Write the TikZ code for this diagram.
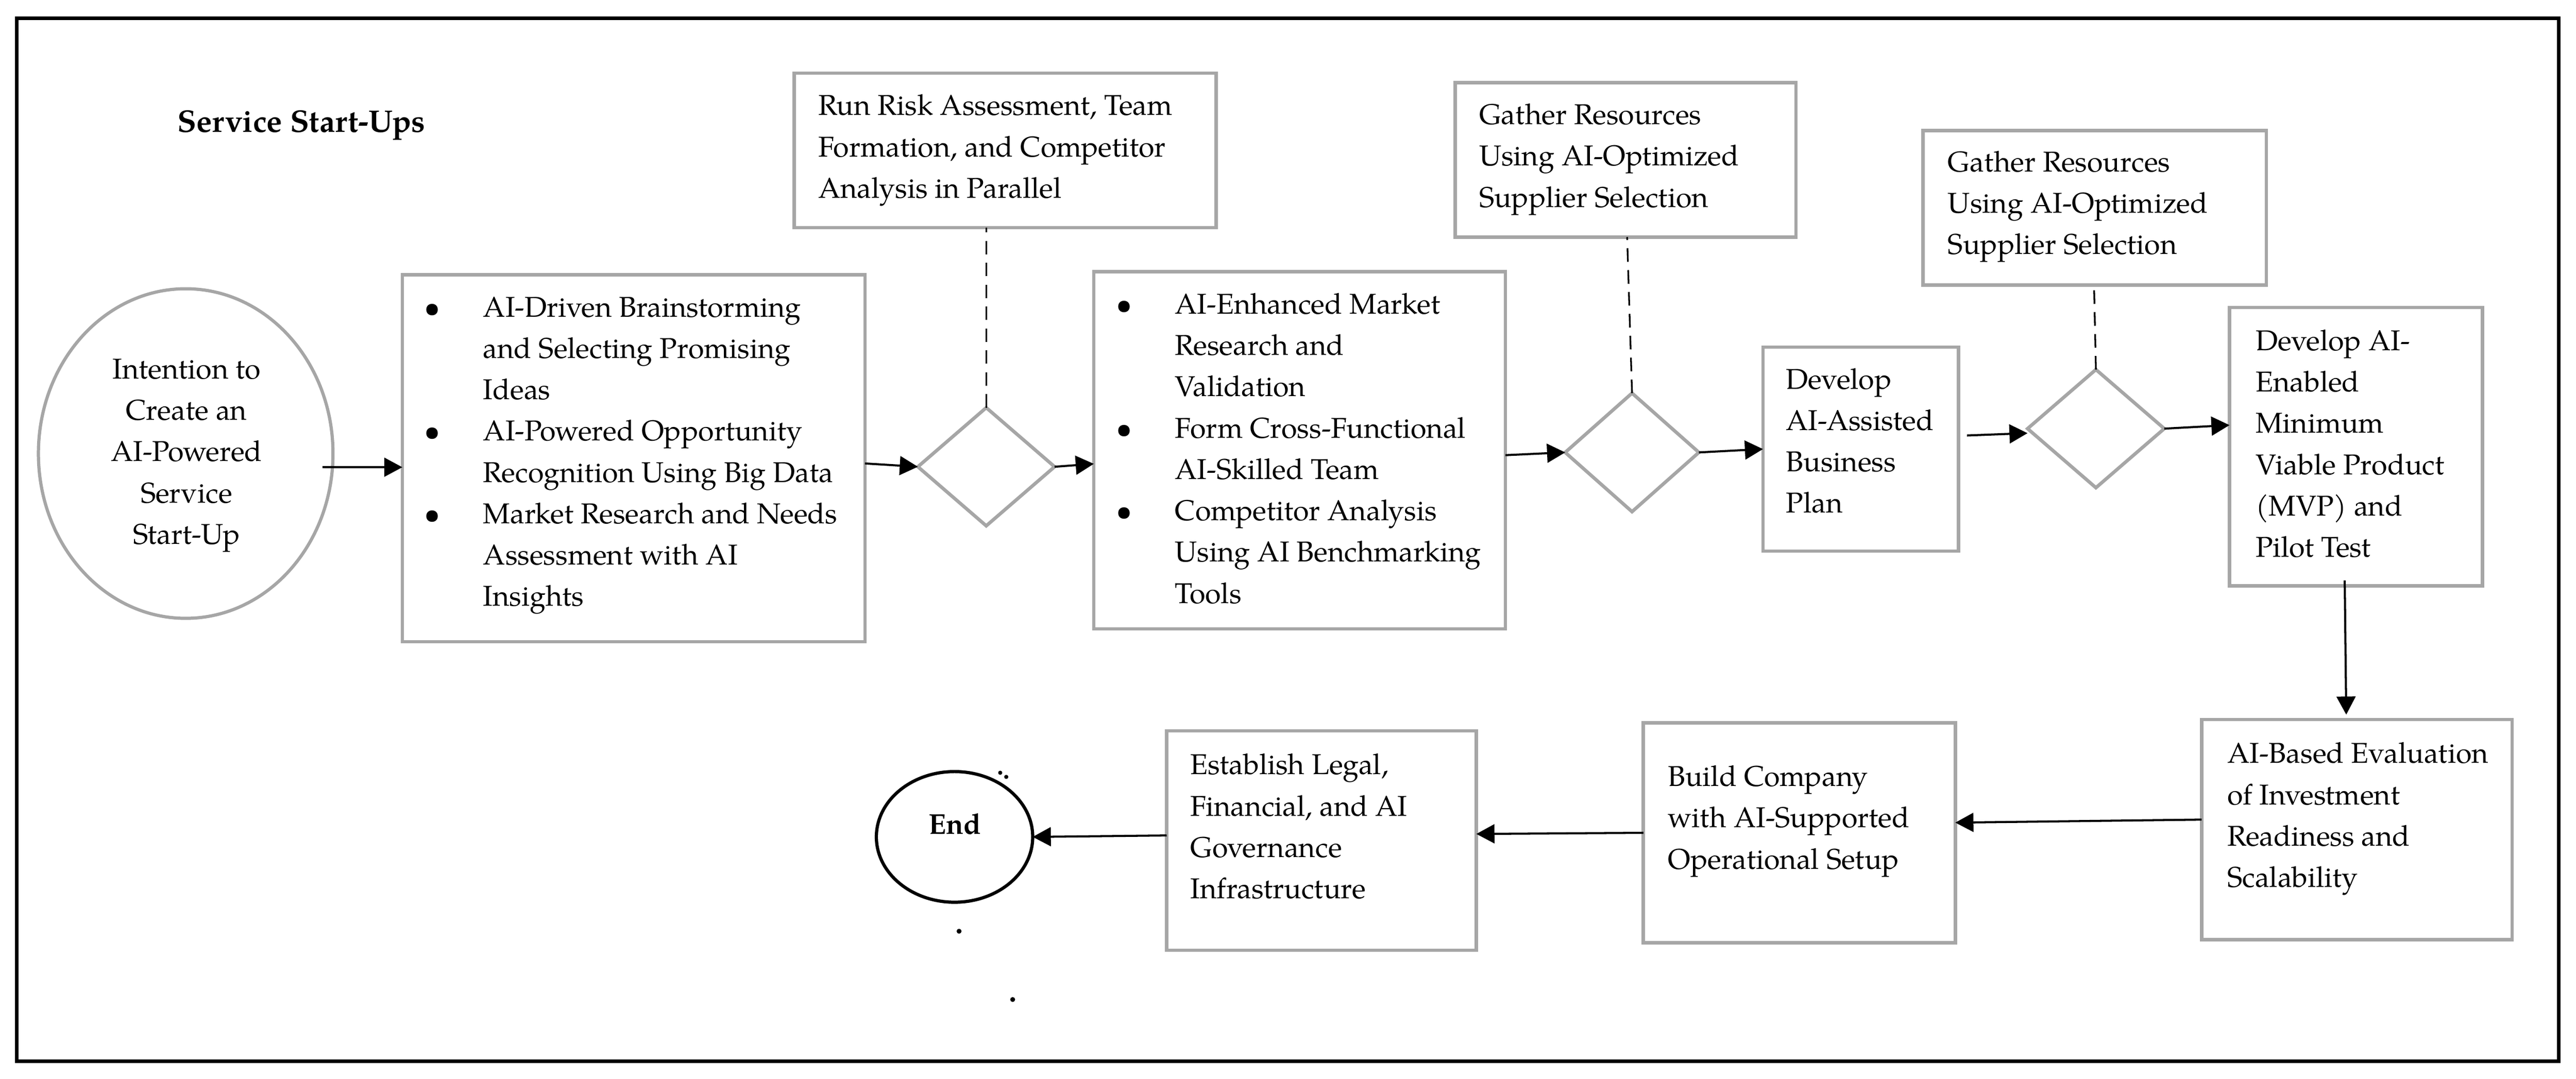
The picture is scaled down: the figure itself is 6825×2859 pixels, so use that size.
\documentclass[tikz,border=0pt]{standalone}
\usepackage{fontspec}
\setmainfont{TeX Gyre Pagella}
\usetikzlibrary{shapes.geometric,arrows.meta}
\definecolor{boxgray}{RGB}{166,166,166}
\newcommand\mainsize{\fontsize{21.6pt}{31.15pt}\selectfont}
\newcommand\titlesize{\fontsize{23.5pt}{31.15pt}\selectfont}
\newcommand\bul{\llap{\makebox[2.7cm][c]{\textbullet}}}
\begin{document}
\begin{tikzpicture}[x=0.01cm,y=-0.01cm,
  every node/.style={inner sep=0pt, outer sep=0pt},
  gbox/.style={draw=boxgray, line width=0.09cm, rectangle, anchor=north west},
  gdiam/.style={draw=boxgray, line width=0.09cm, diamond, minimum width=3.62cm, minimum height=3.13cm},
  txt/.style={anchor=north west, font=\mainsize},
  arr/.style={-{Triangle[length=0.48cm,width=0.5cm]}, line width=0.055cm},
  dsh/.style={dash pattern=on 0.36cm off 0.22cm, line width=0.045cm}]
\useasboundingbox (0,0) rectangle (6825,2859);
\draw[line width=0.095cm] (45,49) rectangle (6779,2812);
\node[anchor=base west, font=\titlesize\bfseries] (title) at (470,350) {Service Start-Ups};
% start ellipse
\node[ellipse, draw=boxgray, line width=0.085cm, minimum width=7.8cm, minimum height=8.73cm] (start) at (492,1202) {};
\node[anchor=north, font=\mainsize] (starttxt) at (494,927) {\begin{tabular}{@{}c@{}}Intention to\\Create an\\AI-Powered\\Service\\Start-Up\end{tabular}};
% box 1
\node[gbox, minimum width=12.25cm, minimum height=9.72cm] (b1) at (1066,728) {};
\node[txt] (b1t) at (1280,763) {\begin{tabular}{@{}l@{}}\bul AI-Driven Brainstorming\\and Selecting Promising\\Ideas\\\bul AI-Powered Opportunity\\Recognition Using Big Data\\\bul Market Research and Needs\\Assessment with AI\\Insights\end{tabular}};
% top 1 and diamond 1
\node[gbox, minimum width=11.17cm, minimum height=4.09cm] (t1) at (2104,194) {};
\node[txt] (t1t) at (2168,229) {\begin{tabular}{@{}l@{}}Run Risk Assessment, Team\\Formation, and Competitor\\Analysis in Parallel\end{tabular}};
\node[gdiam] (d1) at (2613,1237) {};
% box 2
\node[gbox, minimum width=10.90cm, minimum height=9.46cm] (b2) at (2898,720) {};
\node[txt] (b2t) at (3113,755) {\begin{tabular}{@{}l@{}}\bul AI-Enhanced Market\\Research and\\Validation\\\bul Form Cross-Functional\\AI-Skilled Team\\\bul Competitor Analysis\\Using AI Benchmarking\\Tools\end{tabular}};
% top 2 and diamond 2
\node[gbox, minimum width=9.03cm, minimum height=4.09cm] (t2) at (3855,219) {};
\node[txt] (t2t) at (3919,253) {\begin{tabular}{@{}l@{}}Gather Resources\\Using AI-Optimized\\Supplier Selection\end{tabular}};
\node[gdiam, minimum width=3.54cm, minimum height=3.14cm] (d2) at (4324,1199) {};
% box 3
\node[gbox, minimum width=5.18cm, minimum height=5.40cm] (b3) at (4671,920) {};
\node[txt] (b3t) at (4732,954) {\begin{tabular}{@{}l@{}}Develop\\AI-Assisted\\Business\\Plan\end{tabular}};
% top 3 and diamond 3
\node[gbox, minimum width=9.09cm, minimum height=4.09cm] (t3) at (5095,346) {};
\node[txt] (t3t) at (5161,378) {\begin{tabular}{@{}l@{}}Gather Resources\\Using AI-Optimized\\Supplier Selection\end{tabular}};
\node[gdiam] (d3) at (5553,1136) {};
% box 4
\node[gbox, minimum width=6.70cm, minimum height=7.37cm] (b4) at (5907,815) {};
\node[txt] (b4t) at (5976,852) {\begin{tabular}{@{}l@{}}Develop AI-\\Enabled\\Minimum\\Viable Product\\(MVP) and\\Pilot Test\end{tabular}};
% box 5
\node[gbox, minimum width=8.22cm, minimum height=5.83cm] (b5) at (5833,1907) {};
\node[txt] (b5t) at (5901,1946) {\begin{tabular}{@{}l@{}}AI-Based Evaluation\\of Investment\\Readiness and\\Scalability\end{tabular}};
% box 6
\node[gbox, minimum width=8.26cm, minimum height=5.82cm] (b6) at (4354,1916) {};
\node[txt] (b6t) at (4419,2007) {\begin{tabular}{@{}l@{}}Build Company\\with AI-Supported\\Operational Setup\end{tabular}};
% box 7
\node[gbox, minimum width=8.20cm, minimum height=5.81cm] (b7) at (3091,1937) {};
\node[txt] (b7t) at (3154,1976) {\begin{tabular}{@{}l@{}}Establish Legal,\\Financial, and AI\\Governance\\Infrastructure\end{tabular}};
% end
\node[ellipse, draw=black, line width=0.085cm, minimum width=4.14cm, minimum height=3.46cm] (end) at (2529,2218) {};
\node[anchor=base, font=\mainsize\bfseries] (endtxt) at (2530,2211) {End};
% dashed links
\draw[dsh] (d1.north) -- (d1.north |- t1.south);
\draw[dsh] (d2.north) -- ([xshift=-0.13cm]d2.north |- t2.south);
\draw[dsh] (d3.north) -- ([xshift=-0.05cm]d3.north |- t3.south);
% arrows
\draw[arr] ([shift={(-28,36)}]start.east) -- ([yshift=-0.24cm]b1.west);
\draw[arr] ([yshift=-0.14cm]b1.east) -- (d1.west);
\draw[arr] (d1.east) -- ([yshift=-0.36cm]b2.west);
\draw[arr] ([yshift=-0.13cm]b2.east) -- (d2.west);
\draw[arr] (d2.east) -- (b3.west);
\draw[arr] ([xshift=0.22cm,yshift=0.36cm]b3.east) -- ([yshift=-0.12cm]d3.west);
\draw[arr] (d3.east) -- ([yshift=0.57cm]b4.west);
\draw[arr] ([shift={(-30,-14)}]b4.south) -- ([shift={(-28,-13)}]b5.north);
\draw[arr] ([yshift=0.265cm]b5.west) -- ([yshift=0.27cm]b6.east);
\draw[arr] (b6.west) -- ([yshift=0.175cm]b7.east);
\draw[arr] ([yshift=0.135cm]b7.west) -- (end.east);
% stray dots
\fill (2650,2048) circle (0.055cm);
\fill (2666,2059) circle (0.055cm);
\fill (2541,2468) circle (0.065cm);
\fill (2683,2649) circle (0.065cm);
\end{tikzpicture}
\end{document}
